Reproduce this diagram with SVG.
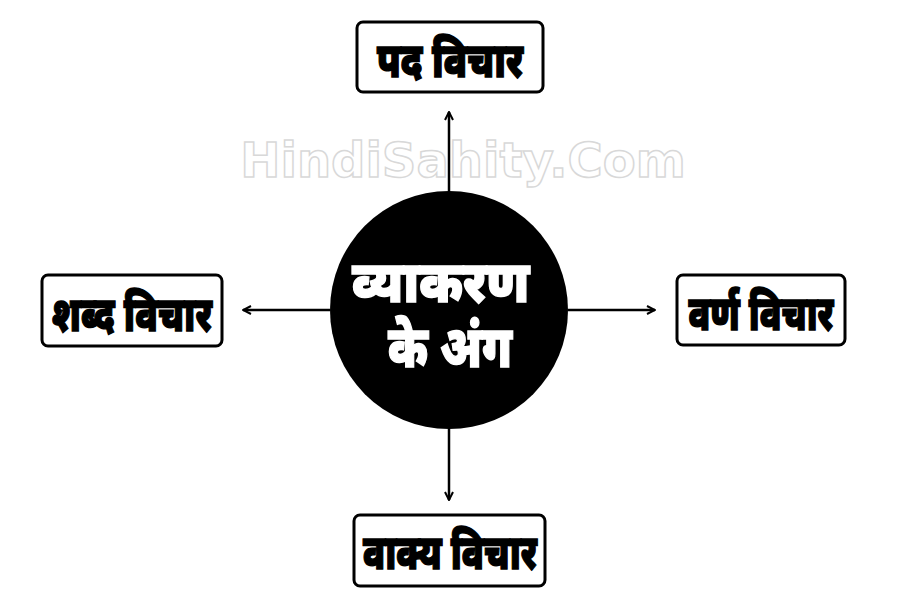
<svg xmlns="http://www.w3.org/2000/svg" width="899" height="603" viewBox="0 0 899 603">
<style>
.box{fill:#fff;stroke:#000;stroke-width:3}
.lbl{font-family:"Noto Sans Devanagari","Noto Sans",sans-serif;font-weight:900;font-size:48px;fill:#000;stroke:#000;stroke-width:1.4;text-anchor:middle}
.ctr{font-family:"Noto Sans Devanagari","Noto Sans",sans-serif;font-weight:900;font-size:58px;fill:#fff;stroke:#fff;stroke-width:1.4;text-anchor:middle}
.wm{font-family:"DejaVu Sans",sans-serif;font-weight:bold;font-size:48px;fill:#fff;stroke:#d8d8d8;stroke-width:1.5;text-anchor:middle;dominant-baseline:central}
.con{stroke:#000;stroke-width:2.5;fill:none}
</style>
<defs>
<marker id="ah" viewBox="0 0 10 10" refX="9" refY="5" markerWidth="10" markerHeight="10" markerUnits="userSpaceOnUse" orient="auto">
<path d="M1,1 L9,5 L1,9" fill="none" stroke="#000" stroke-width="2"/>
</marker>
</defs>
<rect width="899" height="603" fill="#fff"/>
<text class="wm" x="463" y="160">HindiSahity.Com</text>
<g id="connectors">
<line class="con" x1="449" y1="191" x2="449" y2="112" marker-end="url(#ah)"/>
<line class="con" x1="449" y1="429" x2="449" y2="500" marker-end="url(#ah)"/>
<line class="con" x1="330" y1="310" x2="243" y2="310" marker-end="url(#ah)"/>
<line class="con" x1="568" y1="310" x2="655" y2="310" marker-end="url(#ah)"/>
</g>
<g id="center">
<circle cx="449" cy="310" r="119" fill="#000"/>
<text class="ctr" x="441" y="302" textLength="177" lengthAdjust="spacingAndGlyphs">व्याकरण</text>
<text class="ctr" x="450" y="367" textLength="124" lengthAdjust="spacingAndGlyphs">के अंग</text>
</g>
<g id="pad">
<rect class="box" x="357" y="22" width="186" height="70" rx="6"/>
<text class="lbl" x="450" y="77" textLength="146" lengthAdjust="spacingAndGlyphs">पद विचार</text>
</g>
<g id="shabd">
<rect class="box" x="42" y="275" width="180" height="71" rx="6"/>
<text class="lbl" x="132" y="331" textLength="160" lengthAdjust="spacingAndGlyphs">शब्द विचार</text>
</g>
<g id="varn">
<rect class="box" x="677" y="275" width="168" height="70" rx="6"/>
<text class="lbl" x="761" y="330" textLength="145" lengthAdjust="spacingAndGlyphs">वर्ण विचार</text>
</g>
<g id="vakya">
<rect class="box" x="354" y="515" width="191" height="71" rx="6"/>
<text class="lbl" x="450" y="569" textLength="174" lengthAdjust="spacingAndGlyphs">वाक्य विचार</text>
</g>
</svg>
